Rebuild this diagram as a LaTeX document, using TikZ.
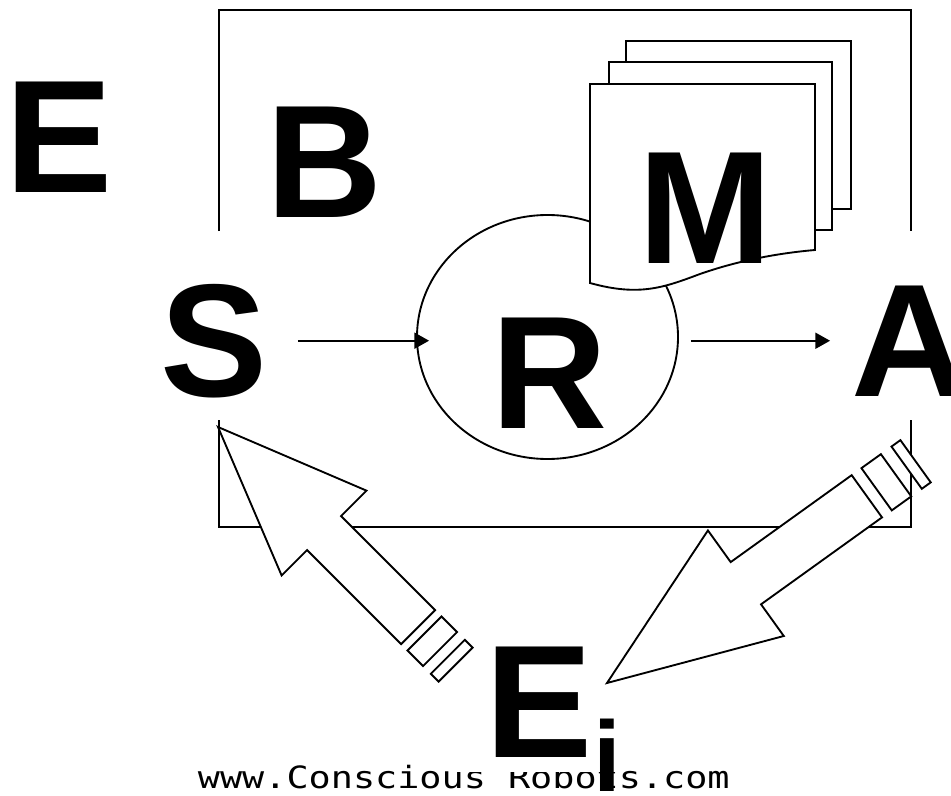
\documentclass[tikz,border=0pt]{standalone}
\usepackage{fontspec}
\setmainfont{Liberation Sans}
\newfontfamily\urlfont[FakeStretch=1.2]{DejaVu Sans Mono}
\usetikzlibrary{shapes.geometric, arrows.meta}

\newcommand{\bigletter}{\fontsize{120.5}{121}\selectfont\bfseries}

\begin{document}
\begin{tikzpicture}[
  x=0.75pt, y=-0.75pt,
  line width=1.4pt,
  letter/.style={font=\bigletter, inner sep=0pt, anchor=base},
  flow/.style={-{Triangle[length=11pt, width=12pt]}, line width=1.3pt},
  sheet/.style={draw, fill=white},
  blockarrow/.style={draw, fill=white, line width=1.4pt}
]
\useasboundingbox (0,0) rectangle (951,796);

% body box, open where S and A stand
\draw (219,231) -- (219,10) -- (911,10) -- (911,231);
\draw (219,420) -- (219,527) -- (911,527) -- (911,420);

\node[font=\urlfont\fontsize{23}{24}\selectfont, inner sep=0pt, anchor=base west]
  (url) at (197,788) {www.Conscious Robots.com};
\node[letter, anchor=base west, fill=white, text depth=11.25pt] (Ei) at (455,757)
  {\hspace*{22.5pt}E\raisebox{-25.5pt}{\fontsize{75}{75}\selectfont i}\hspace*{3pt}};

\node[ellipse, draw, fill=white, minimum width=195.75pt, minimum height=183pt,
      inner sep=0pt] (rc) at (547.5,337) {};

% memory stack
\draw[sheet] (626,41) rectangle (851,209);
\draw[sheet] (609,62) rectangle (832,230);
\draw[sheet] (590,84) -- (815,84) -- (815,250)
  .. controls (780,253) and (740,260) .. (700,274)
  .. controls (665,287) and (640,297) .. (590,283) -- cycle;

% environment back to S
\begin{scope}[shift={(218,427)}, rotate=-45]
  \draw[blockarrow] (0,0) -- (150,60) -- (150,24) -- (283,24) -- (283,-24)
    -- (150,-24) -- (150,-60) -- cycle;
  \draw[blockarrow] (292,24) rectangle (314,-24);
  \draw[blockarrow] (325,24) rectangle (336,-24);
\end{scope}

% A out to the environment
\begin{scope}[shift={(607,683)}, rotate=35.7]
  \draw[blockarrow] (0,0) -- (171,65) -- (171,26) -- (320,26) -- (320,-26)
    -- (171,-26) -- (171,-65) -- cycle;
  \draw[blockarrow] (332,26) rectangle (356,-26);
  \draw[blockarrow] (369,26) rectangle (380,-26);
\end{scope}

\node[letter] (E) at (59,192) {E};
\node[letter] (B) at (324.5,217) {B};
\node[letter] (S) at (214,396) {S};
\node[letter] (R) at (549.5,428) {R};
\node[letter] (A) at (910,396) {A};
\node[letter] (M) at (705,263) {M};

\draw[flow, shorten <=22pt, shorten >=-9.75pt] (S.east) -- (S.east -| rc.west);
\draw[flow, shorten <=9pt, shorten >=15.75pt] (rc.east |- A.west) -- (A.west);

\end{tikzpicture}
\end{document}
